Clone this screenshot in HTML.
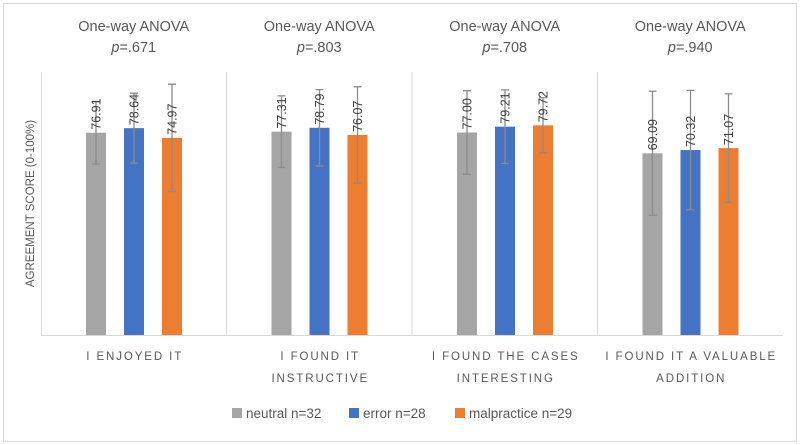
<!DOCTYPE html>
<html><head><meta charset="utf-8"><style>
body{margin:0;background:#fff;}
svg{display:block;font-family:"Liberation Sans",sans-serif;}
</style></head><body>
<svg id="chart" width="800" height="445">
<rect x="3.5" y="3.5" width="793" height="438" fill="#fff" stroke="#d9d9d9"/>
<g id="plot"></g>
</svg>
<script>
const categories=[["I ENJOYED IT"],["I FOUND IT","INSTRUCTIVE"],["I FOUND THE CASES","INTERESTING"],["I FOUND IT A VALUABLE","ADDITION"]];
const pValues=["p=.671","p=.803","p=.708","p=.940"];
const seriesNames=["neutral n=32","error n=28","malpractice n=29"];
const neutral=[76.91,77.31,77.00,69.09];
const error=[78.64,78.79,79.21,70.32];
const malpractice=[74.97,76.07,79.72,71.07];
const neutralErr=[11.9,13.6,15.9,23.6];
const errorErr=[13.3,14.5,14.0,22.7];
const malpracticeErr=[20.4,18.3,10.5,20.6];
const colors=["#a5a5a5","#4472c4","#ed7d31"];
const series=[neutral,error,malpractice], errs=[neutralErr,errorErr,malpracticeErr];
const NS="http://www.w3.org/2000/svg", g=document.getElementById('plot');
const L=41,R=783,T=72,B=335,gw=(R-L)/categories.length;
const y=v=>B-(v/100)*(B-T);
const x=(i,s)=>L+i*gw+45+s*38;
function mk(t,a){const e=document.createElementNS(NS,t);for(const k in a)e.setAttribute(k,a[k]);g.appendChild(e);return e;}
let e=mk('path',{d:`M${L+.5},${T}V${B+.5}H${R}`,stroke:'#d9d9d9',fill:'none'});


categories.forEach((c,i)=>{
  const cx=L+i*gw+gw/2;
  if(i>0){const s=mk('line',{x1:L+i*gw,x2:L+i*gw,y1:T,y2:B,stroke:'#d9d9d9'});
    
    }
  const t1=mk('text',{x:cx,y:31,'text-anchor':'middle','font-size':14.5,fill:'#595959'});t1.textContent='One-way ANOVA';
  
  
  const t2=mk('text',{x:cx,y:52,'text-anchor':'middle','font-size':14.5,fill:'#595959'});
  t2.innerHTML='<tspan font-style="italic">p</tspan>'+pValues[i].slice(1);
  
  
  c.forEach((ln,j)=>{const t=mk('text',{x:cx+1,y:360+j*22,'text-anchor':'middle','font-size':11.5,fill:'#595959','letter-spacing':'1.9'});t.textContent=ln;
    
    });
  series.forEach((sv,s)=>{
    const bx=x(i,s),v=sv[i],er=errs[s][i];
    const r=mk('rect',{x:bx,y:y(v),width:20,height:B-y(v),fill:colors[s]});
    
    
    const m=bx+10,y1=y(v+er),y2=y(v-er);
    const eb=mk('path',{d:`M${m},${y1}V${y2}M${m-4},${y1}H${m+4}M${m-4},${y2}H${m+4}`,stroke:'#8c8c8c','stroke-width':1.3,fill:'none'});
    
    
    const lt=mk('text',{x:0,y:0,'font-size':12.5,fill:'#404040',transform:`translate(${m+4.5},${y(v)-3}) rotate(-90)`});
    lt.textContent=v.toFixed(2);
    
    
  });
});
const yt=mk('text',{x:0,y:0,'font-size':11.5,fill:'#595959','text-anchor':'middle',transform:`translate(34,${(T+B)/2}) rotate(-90)`});
yt.textContent='AGREEMENT SCORE (0-100%)';


const lx=[232,349,455];
seriesNames.forEach((n,s)=>{
  const r=mk('rect',{x:lx[s],y:408,width:10,height:10,fill:colors[s]});
  
  
  const t=mk('text',{x:lx[s]+14,y:418,'font-size':13.5,fill:'#595959'});t.textContent=n;
  
  
});
</script>
</body></html>
